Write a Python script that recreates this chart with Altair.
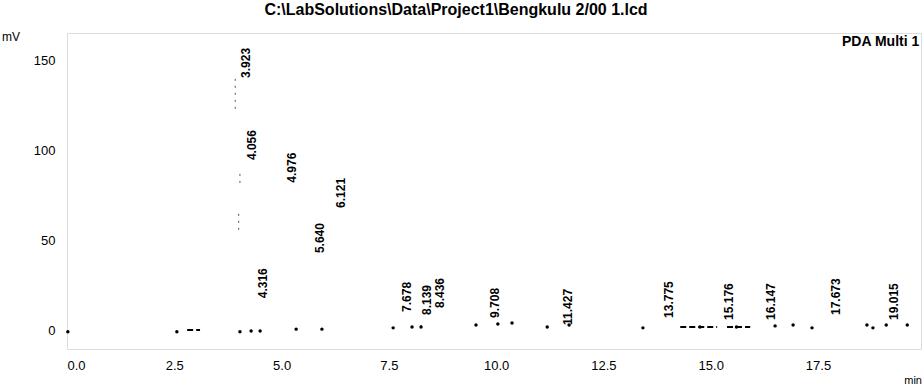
import altair as alt
import pandas as pd

# Peak retention times (min) and approximate apex heights (mV)
peak_rt = [3.923, 4.056, 4.316, 4.976, 5.640, 6.121, 7.678, 8.139, 8.436,
           9.708, 11.427, 13.775, 15.176, 16.147, 17.673, 19.015]
peak_h = [139, 93.5, 17, 81, 42, 67, 9.4, 7.7, 11.6,
          6.1, 2.2, 6.1, 5, 5, 7.7, 5]

# Visible fragments of the (faded) trace: single dots
dot_rt = [0.02, 2.56, 4.03, 4.29, 4.50, 5.34, 5.94, 7.60, 8.04, 8.25, 9.53,
          10.04, 10.37, 11.19, 11.70, 13.42, 14.75, 15.60, 16.50, 16.92,
          17.36, 18.64, 18.78, 19.09, 19.58]
dot_v = [-0.5, -0.5, -0.5, 0.0, 0.0, 1.0, 1.0, 1.7, 2.2, 2.2, 3.3,
         3.9, 4.4, 2.2, 3.3, 1.7, 2.2, 2.2, 2.8, 3.3,
         1.7, 3.3, 1.7, 3.3, 3.3]

# Faded horizontal dashes of the baseline
seg_rt = [2.80, 14.29, 15.38]
seg_rt2 = [3.10, 15.15, 15.92]
seg_v = [0.5, 2.2, 2.2]

# Faded vertical pieces of the large peak trace
vseg_rt = [3.92, 4.03, 4.00, 8.25]
vseg_lo = [123, 82, 56, 2.2]
vseg_hi = [142, 88, 65, 6.0]

x_ticks = [0.0, 2.5, 5.0, 7.5, 10.0, 12.5, 15.0, 17.5]
y_ticks = [0, 50, 100, 150]

title_text = "C:\\LabSolutions\\Data\\Project1\\Bengkulu 2/00 1.lcd"

FONT = "Liberation Sans"

peaks = pd.DataFrame({"rt": peak_rt, "h": peak_h})
dots = pd.DataFrame({"rt": dot_rt, "v": dot_v})
segs = pd.DataFrame({"rt": seg_rt, "rt2": seg_rt2, "v": seg_v})
vsegs = pd.DataFrame({"rt": vseg_rt, "lo": vseg_lo, "hi": vseg_hi})

xscale = alt.Scale(domain=[0, 19.9], nice=False, zero=False)
yscale = alt.Scale(domain=[-10, 165], nice=False, zero=False)

xaxis = alt.Axis(values=x_ticks, format=".1f", title=None, grid=False,
                 domain=False, ticks=False, labelPadding=10, labelFontSize=13,
                 labelFont=FONT, labelColor="black")
yaxis = alt.Axis(values=y_ticks, format="d", title=None, grid=False,
                 domain=False, ticks=False, labelPadding=12, labelFontSize=13,
                 labelFont=FONT, labelColor="black")

base_dots = alt.Chart(dots).mark_point(filled=True, color="black", size=12, opacity=1).encode(
    x=alt.X("rt:Q", scale=xscale, axis=xaxis),
    y=alt.Y("v:Q", scale=yscale, axis=yaxis),
)

hsegs = alt.Chart(segs).mark_rule(color="black", strokeWidth=2, strokeDash=[6, 3]).encode(
    x="rt:Q", x2="rt2:Q", y="v:Q"
)

vrules = alt.Chart(vsegs).mark_rule(color="#555555", strokeWidth=1, strokeDash=[2, 5]).encode(
    x="rt:Q", y="lo:Q", y2="hi:Q"
)

labels = alt.Chart(peaks).mark_text(
    angle=270, align="left", baseline="middle", dx=2, dy=11,
    fontSize=12, fontWeight="bold", font=FONT, color="black"
).encode(
    x="rt:Q", y="h:Q", text=alt.Text("rt:Q", format=".3f")
)

ann = pd.DataFrame({"t": ["PDA Multi 1"]})
pda = alt.Chart(ann).mark_text(align="left", baseline="middle", fontSize=14,
                               fontWeight="bold", font=FONT, color="black").encode(
    x=alt.value(775), y=alt.value(9), text="t:N")

ann2 = pd.DataFrame({"t": ["mV"]})
mv = alt.Chart(ann2).mark_text(align="right", baseline="middle", fontSize=12,
                               font=FONT, color="black").encode(
    x=alt.value(-47), y=alt.value(4), text="t:N")

ann3 = pd.DataFrame({"t": ["min"]})
mn = alt.Chart(ann3).mark_text(align="right", baseline="middle", fontSize=11,
                               font=FONT, color="black").encode(
    x=alt.value(855), y=alt.value(348), text="t:N")

chart = alt.layer(vrules, hsegs, base_dots, labels, pda, mv, mn).properties(
    width=854, height=316,
    title=alt.TitleParams(title_text, fontSize=16, font=FONT, fontWeight="bold",
                          anchor="middle", dx=-38, offset=13, color="black"),
    autosize=alt.AutoSizeParams(type="none"),
    padding={"left": 67, "top": 33, "right": 3, "bottom": 41},
).configure_view(stroke=None).configure(background="white")

chart.save("out.html", embed_options={"renderer": "svg", "actions": False})
